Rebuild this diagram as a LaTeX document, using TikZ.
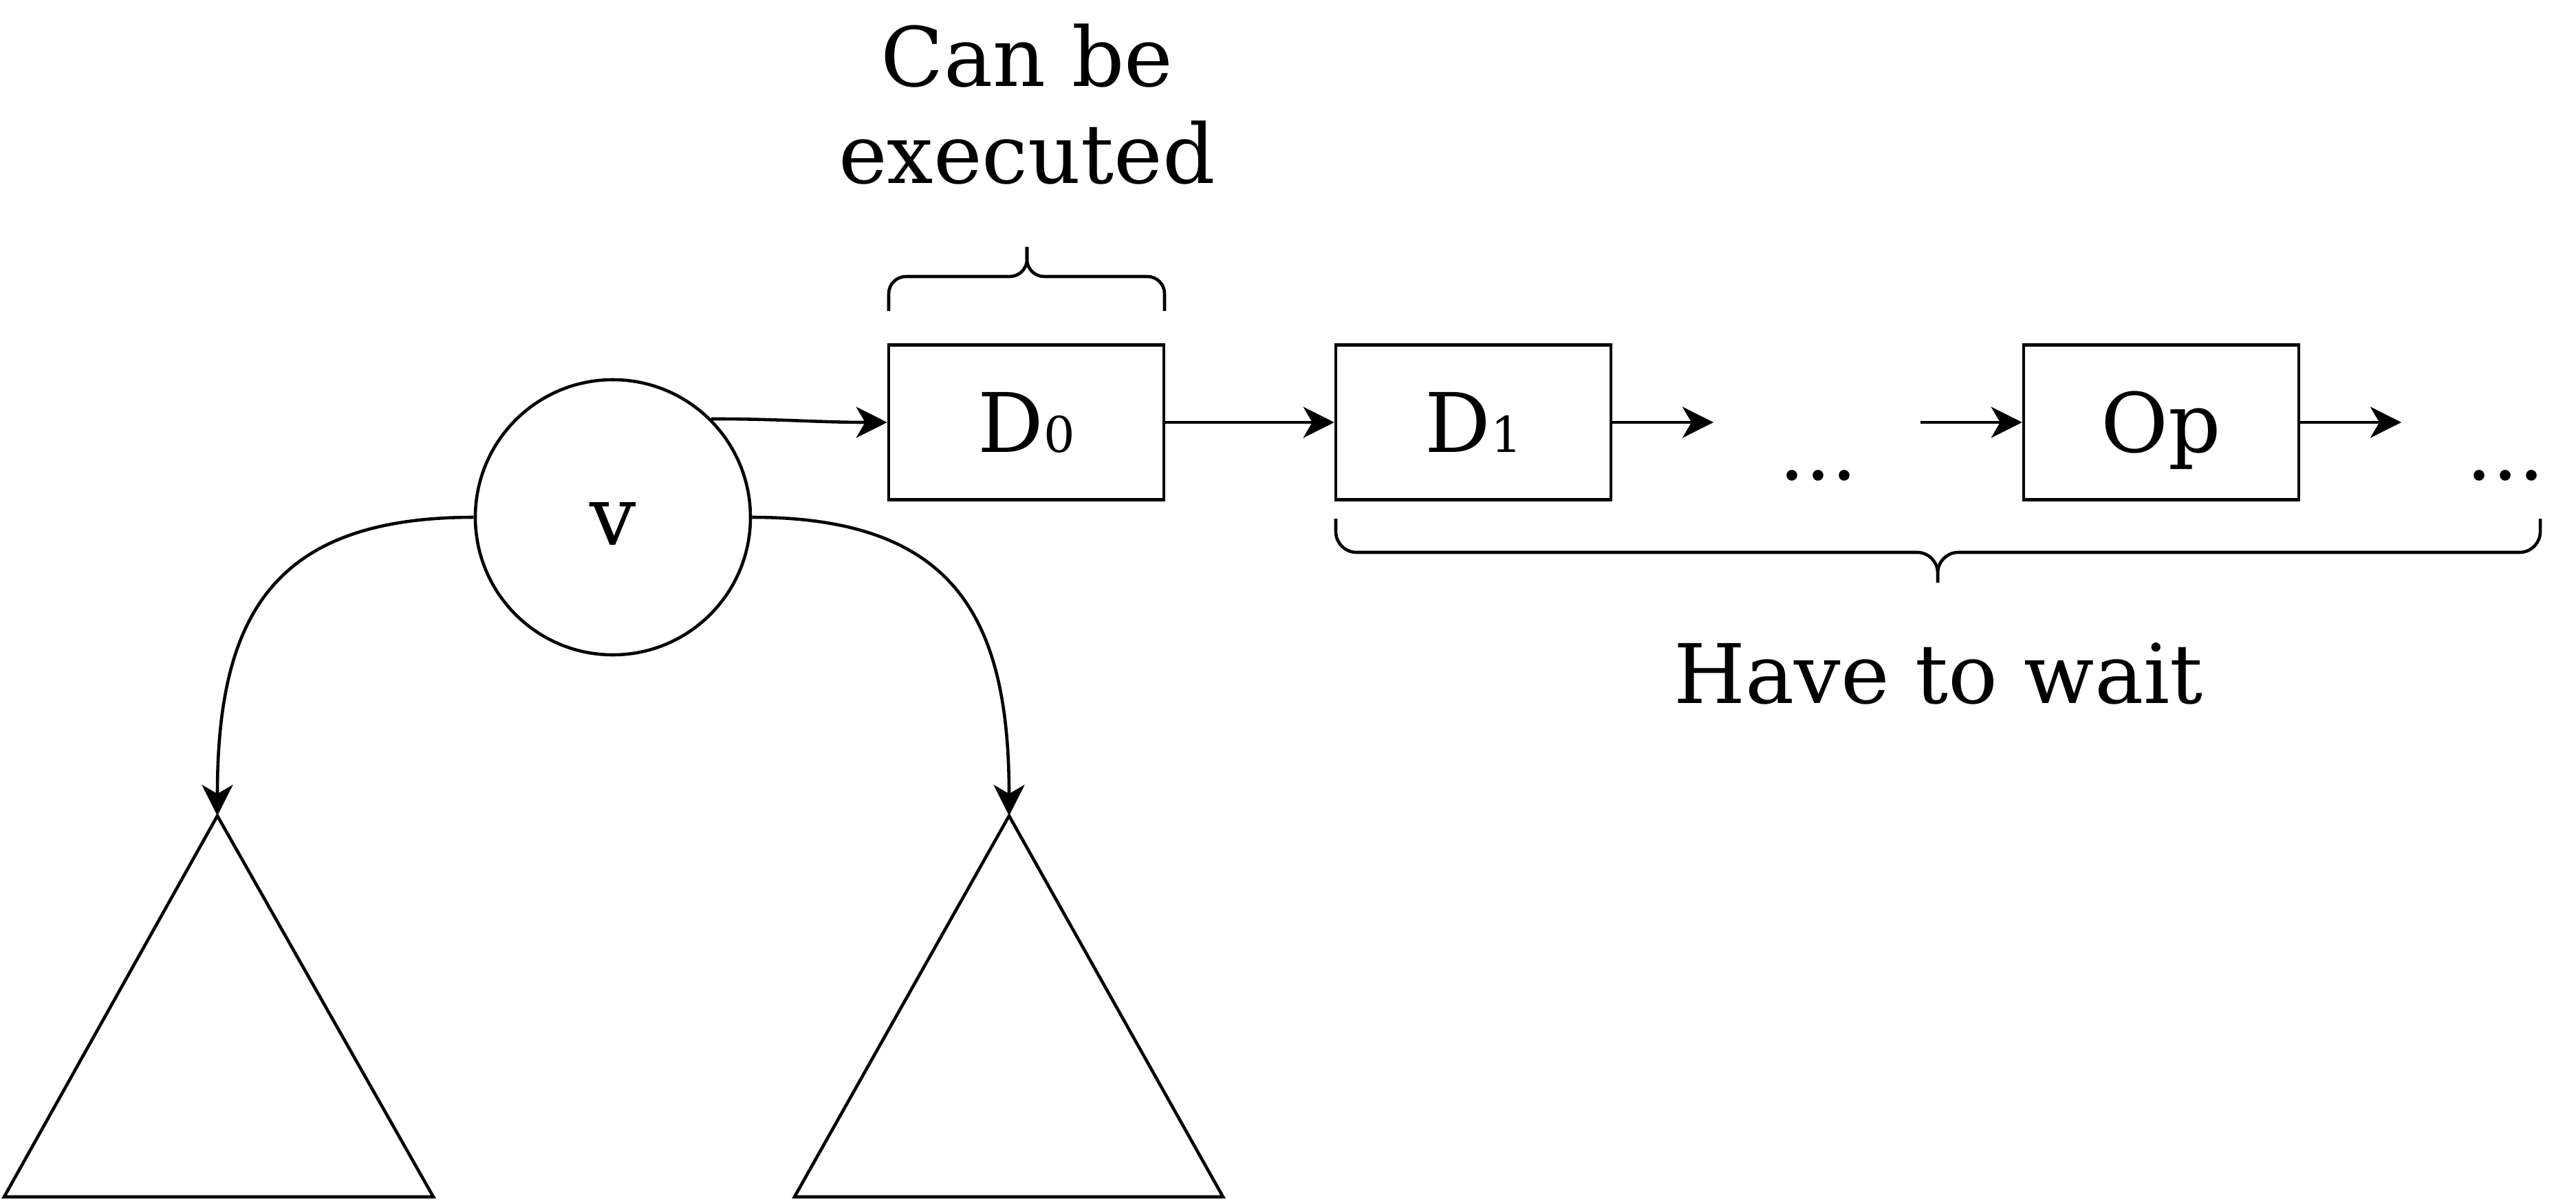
\documentclass[tikz,border=0pt]{standalone}
\usepackage{fontspec}
\setmainfont{DejaVu Serif}
\usetikzlibrary{arrows.meta}

\tikzset{
  task/.style={draw, rectangle, minimum width=4cm, minimum height=2.25cm, inner sep=0pt, text height=24.8pt, text depth=0pt},
  vnode/.style={draw, circle, minimum size=4cm, inner sep=0pt, text height=23pt, text depth=0pt},
  link/.style={-{Stealth[length=4.5mm,width=4.5mm,inset=1.3mm]}}
}

\begin{document}
\begin{tikzpicture}[line width=1.3pt, font=\fontsize{34}{40.3}\selectfont]
\useasboundingbox (0,0) rectangle (37.45,17.45);

\node[vnode] (v) at (8.91,9.93) {v};
\node[task] (d0) at (14.92,11.31) {D{\fontsize{20.4}{20.4}\selectfont 0}};
\node[task] (d1) at (21.42,11.31) {D{\fontsize{20.4}{20.4}\selectfont 1}};
\node[task] (op) at (31.42,11.31) {Op};
\node[anchor=base] (dots1) at (26.43,10.48) {...};
\node[anchor=base] (dots2) at (36.42,10.48) {...};

\coordinate (d1out) at (24.91,11.31);
\coordinate (opin) at (27.92,11.31);
\coordinate (opout) at (34.91,11.31);
\coordinate (ltop) at (3.16,5.59);
\coordinate (rtop) at (14.67,5.59);

% subtrees
\draw (ltop) -- (6.30,0.05) -- (0.06,0.05) -- cycle;
\draw (rtop) -- (17.78,0.05) -- (11.55,0.05) -- cycle;

\draw[link] (v.45) to[out=0,in=180] (d0.west);
\draw[link] (d0) -- (d1);
\draw[link] (d1) -- (d1out);
\draw[link] (opin) -- (op);
\draw[link] (op) -- (opout);
\draw[link] (v.west) to[out=180,in=90,looseness=1.3] (ltop);
\draw[link] (v.east) to[out=0,in=90,looseness=1.3] (rtop);

% braces
\draw[rounded corners=0.25cm] (12.92,12.93) -- (12.92,13.43) -- (14.93,13.43) -- (14.93,13.86);
\draw[rounded corners=0.25cm] (16.93,12.93) -- (16.93,13.43) -- (14.93,13.43) -- (14.93,13.86);
\draw[rounded corners=0.3cm] (19.42,9.91) -- (19.42,9.42) -- (28.17,9.42) -- (28.17,8.98);
\draw[rounded corners=0.3cm] (36.93,9.91) -- (36.93,9.42) -- (28.17,9.42) -- (28.17,8.98);

\node[align=center, anchor=base] (canrun) at (14.93,14.78) {Can be\\executed};
\node[anchor=base] (wait) at (28.18,7.23) {Have to wait};
\end{tikzpicture}
\end{document}
